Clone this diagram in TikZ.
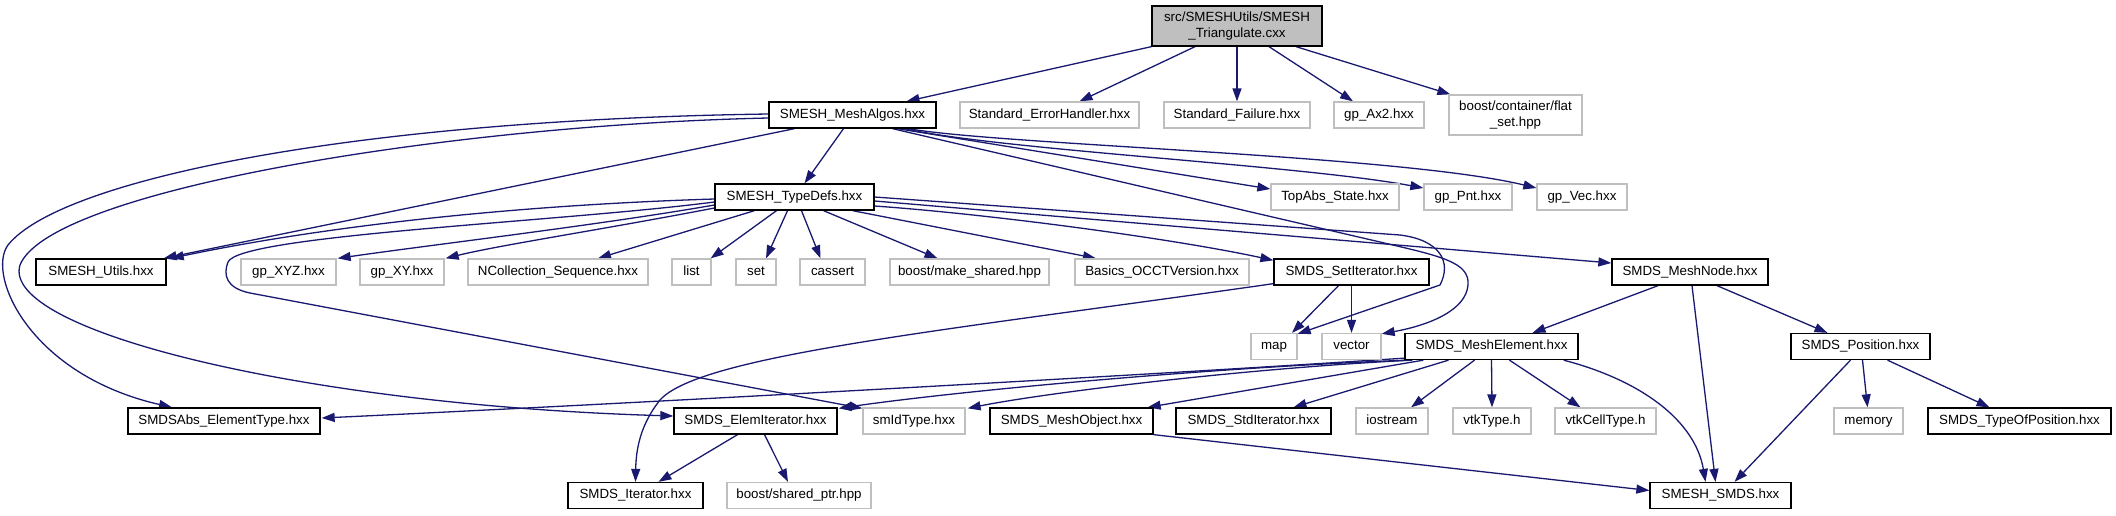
\documentclass[tikz,border=0pt]{standalone}
\usepackage{fontspec}
\setmainfont{Liberation Sans}
\usetikzlibrary{arrows.meta,calc}
\definecolor{edgecol}{HTML}{191970}
\definecolor{graybox}{HTML}{BFBFBF}
\pgfdeclarelayer{bg}
\pgfsetlayers{bg,main}
\begin{document}
\begin{tikzpicture}[x=1pt,y=-1pt,
  box/.style={draw=black, line width=1.3pt, fill=white, minimum height=26pt, inner sep=0pt,
              font=\fontsize{13.33}{16}\selectfont, anchor=center, text height=9.6pt, text depth=2.8pt},
  ext/.style={box, draw=graybox},
  twoline/.style={minimum height=40pt, align=center, text height=, text depth=},
  root/.style={box, twoline, fill=graybox},
  dep/.style={draw=edgecol, line width=1.3pt, -{Triangle[length=13pt,width=9pt]}}
]
\useasboundingbox (0,0) rectangle (2116,515);

% row 0
\node[root, minimum width=170pt] (T) at (1237,26) {src/SMESHUtils/SMESH\\\_Triangulate.cxx};
% row 1
\node[box, minimum width=167pt] (MA) at (852.5,115) {SMESH\_MeshAlgos.hxx};
\node[ext, minimum width=179pt] (EH) at (1049.5,115) {Standard\_ErrorHandler.hxx};
\node[ext, minimum width=146pt] (SF) at (1237,115) {Standard\_Failure.hxx};
\node[ext, minimum width=90pt] (AX) at (1379,115) {gp\_Ax2.hxx};
\node[ext, twoline, minimum width=133pt] (FS) at (1515.5,115) {boost/container/flat\\\_set.hpp};
% row 1.5
\node[box, minimum width=159pt] (TD) at (794.5,197) {SMESH\_TypeDefs.hxx};
\node[ext, minimum width=128pt] (TA) at (1335,197) {TopAbs\_State.hxx};
\node[ext, minimum width=88pt] (GP) at (1468,197) {gp\_Pnt.hxx};
\node[ext, minimum width=90pt] (GV) at (1582,197) {gp\_Vec.hxx};
% row 2
\node[box, minimum width=130pt] (SU) at (101,272) {SMESH\_Utils.hxx};
\node[ext, minimum width=95pt] (XYZ) at (288.5,272) {gp\_XYZ.hxx};
\node[ext, minimum width=84pt] (XY) at (402,272) {gp\_XY.hxx};
\node[ext, minimum width=180pt] (NC) at (558,272) {NCollection\_Sequence.hxx};
\node[ext, minimum width=39pt] (LI) at (691.5,272) {list};
\node[ext, minimum width=40pt] (SE) at (756,272) {set};
\node[ext, minimum width=65pt] (CA) at (832.5,272) {cassert};
\node[ext, minimum width=159pt] (MS) at (969.5,272) {boost/make\_shared.hpp};
\node[ext, minimum width=174pt] (BA) at (1162,272) {Basics\_OCCTVersion.hxx};
\node[box, minimum width=155pt] (SI) at (1351.5,272) {SMDS\_SetIterator.hxx};
\node[box, minimum width=156pt] (MN) at (1690,272) {SMDS\_MeshNode.hxx};
% row 3
\node[ext, minimum width=46pt] (MP) at (1274,346.5) {map};
\node[ext, minimum width=59pt] (VE) at (1351.5,346.5) {vector};
\node[box, minimum width=173pt] (ME) at (1491.5,346.5) {SMDS\_MeshElement.hxx};
\node[box, minimum width=139pt] (PO) at (1860.5,346.5) {SMDS\_Position.hxx};
% row 4
\node[box, minimum width=192pt] (AB) at (224,421) {SMDSAbs\_ElementType.hxx};
\node[box, minimum width=163pt] (EI) at (755.5,421) {SMDS\_ElemIterator.hxx};
\node[ext, minimum width=102pt] (ID) at (914,421) {smIdType.hxx};
\node[box, minimum width=163pt] (MO) at (1071.5,421) {SMDS\_MeshObject.hxx};
\node[box, minimum width=155pt] (SD) at (1253.5,421) {SMDS\_StdIterator.hxx};
\node[ext, minimum width=72pt] (IO) at (1392,421) {iostream};
\node[ext, minimum width=78pt] (VT) at (1492,421) {vtkType.h};
\node[ext, minimum width=101pt] (VC) at (1605.5,421) {vtkCellType.h};
\node[ext, minimum width=69pt] (MEM) at (1868.5,421) {memory};
\node[box, minimum width=183pt] (TP) at (2019.5,421) {SMDS\_TypeOfPosition.hxx};
% row 5
\node[box, minimum width=135pt] (IT) at (635.5,495.5) {SMDS\_Iterator.hxx};
\node[ext, minimum width=144pt] (SP) at (799,495.5) {boost/shared\_ptr.hpp};
\node[box, minimum width=141pt] (SS) at (1720.5,495.5) {SMESH\_SMDS.hxx};

\begin{pgfonlayer}{bg}
\fill[white] (0,0) rectangle (2116,515);
% from Triangulate
\draw[dep] (T.south west) -- ($(MA.north)+(54,0)$);
\draw[dep] ($(T.south)+(-42,0)$) -- ($(EH.north)+(30,0)$);
\draw[dep] (T.south) -- (SF.north);
\draw[dep] ($(T.south)+(32,0)$) -- ($(AX.north)+(-26,0)$);
\draw[dep] ($(T.south)+(59,0)$) -- ($(FS.north west)+(2,0)$);
% from MeshAlgos
\draw[dep] ($(MA.south)+(-9,0)$) -- ($(TD.north)+(10,0)$);
\draw[dep] ($(MA.south)+(-58,0)$) -- ($(SU.north east)+(-3,0)$);
\draw[dep] ($(MA.south)+(45,0)$) -- ($(TA.west)+(0,-8)$);
\draw[dep] ($(MA.south)+(52,0)$) .. controls (1000,150) and (1300,165) .. ($(GP.west)+(0,-9)$);
\draw[dep] ($(MA.south)+(56,0)$) .. controls (1000,145) and (1400,155) .. ($(GV.west)+(0,-9)$);
\draw[dep] ($(MA.south)+(40,0)$) -- (1380,242) .. controls (1440,256) and (1470,262) .. (1468,285)
   .. controls (1466,310) and (1430,325) .. ($(VE.north east)+(0,1)$);
\draw[dep] ($(MA.west)+(0,-1)$) .. controls (350,120) and (60,180) .. (8,245)
   .. controls (-14,275) and (30,375) .. ($(AB.north)+(-52,0)$);
\draw[dep] ($(MA.west)+(0,3)$) .. controls (450,125) and (50,190) .. (20,265)
   .. controls (0,330) and (300,405) .. ($(EI.west)+(0,-5)$);
% from TypeDefs
\draw[dep] ($(TD.west)+(0,2)$) .. controls (520,205) and (330,225) .. ($(SU.north east)+(4,0)$);
\draw[dep] ($(TD.west)+(0,5)$) .. controls (560,222) and (240,235) .. (228,262)
   .. controls (223,275) and (226,288) .. (250,293) -- ($(ID.north west)+(0,1)$);
\draw[dep] ($(TD.west)+(0,8)$) .. controls (600,225) and (430,245) .. ($(XYZ.north east)+(1,0)$);
\draw[dep] ($(TD.west)+(0,11)$) .. controls (600,230) and (500,245) .. ($(XY.north east)+(1,0)$);
\draw[dep] ($(TD.south)+(-40,0)$) -- ($(NC.north)+(40,0)$);
\draw[dep] ($(TD.south)+(-18,0)$) -- ($(LI.north east)+(-1,0)$);
\draw[dep] ($(TD.south)+(-7,0)$) -- ($(SE.north)+(10,0)$);
\draw[dep] ($(TD.south)+(7,0)$) -- ($(CA.north)+(-12,0)$);
\draw[dep] ($(TD.south)+(29,0)$) -- ($(MS.north)+(-32,0)$);
\draw[dep] ($(TD.south east)+(-22,0)$) -- ($(BA.north)+(-66,0)$);
\draw[dep] ($(TD.east)+(0,9)$) .. controls (1000,215) and (1180,240) .. ($(SI.north west)+(0,2)$);
\draw[dep] ($(TD.east)+(0,4)$) -- ($(MN.west)+(0,-9)$);
\draw[dep] (TD.east) -- (1400,235) .. controls (1440,240) and (1452,262) .. (1440,285)
   -- ($(MP.north east)+(0,1)$);
% from SetIterator
\draw[dep] ($(SI.south)+(-13,0)$) -- ($(MP.north)+(18,0)$);
\draw[dep] (SI.south) -- (VE.north);
\draw[dep] ($(SI.south west)+(0,-2)$) .. controls (950,330) and (700,355) .. (660,400)
   .. controls (640,425) and (636,450) .. (IT.north);
% from ElemIterator
\draw[dep] ($(EI.south)+(-18,0)$) -- ($(IT.north)+(23,0)$);
\draw[dep] ($(EI.south)+(9,0)$) -- ($(SP.north)+(-11,0)$);
% from MeshNode
\draw[dep] ($(MN.south)+(-32,0)$) -- ($(ME.north)+(41,0)$);
\draw[dep] ($(MN.south)+(2,0)$) -- ($(SS.north)+(-5,0)$);
\draw[dep] ($(MN.south)+(27,0)$) -- ($(PO.north)+(-33,0)$);
% from Position
\draw[dep] ($(PO.south)+(-10,0)$) -- ($(SS.north)+(14,0)$);
\draw[dep] ($(PO.south)+(2,0)$) -- ($(MEM.north)+(-1,0)$);
\draw[dep] ($(PO.south)+(27,0)$) -- ($(TP.north)+(-30,0)$);
% from MeshElement
\draw[dep] ($(ME.south west)+(0,-2)$) .. controls (1100,378) and (600,405) .. ($(AB.east)+(1,-3)$);
\draw[dep] ($(ME.south west)+(3,0)$) .. controls (1200,368) and (950,392) .. ($(EI.north east)+(1,1)$);
\draw[dep] ($(ME.south west)+(8,0)$) .. controls (1250,368) and (1050,392) .. ($(ID.north east)+(2,1)$);
\draw[dep] ($(ME.south west)+(19,0)$) -- ($(MO.north east)+(-6,0)$);
\draw[dep] ($(ME.south)+(-43,0)$) -- ($(SD.north)+(40,0)$);
\draw[dep] ($(ME.south)+(-17,0)$) -- ($(IO.north)+(19,0)$);
\draw[dep] (ME.south) -- (VT.north);
\draw[dep] ($(ME.south)+(18,0)$) -- ($(VC.north)+(-25,0)$);
\draw[dep] ($(ME.south east)+(-15,0)$) .. controls (1640,380) and (1695,420) .. ($(SS.north)+(-15,0)$);
% from MeshObject
\draw[dep] (MO.south east) -- ($(SS.west)+(0,-5)$);
\end{pgfonlayer}
\end{tikzpicture}
\end{document}
